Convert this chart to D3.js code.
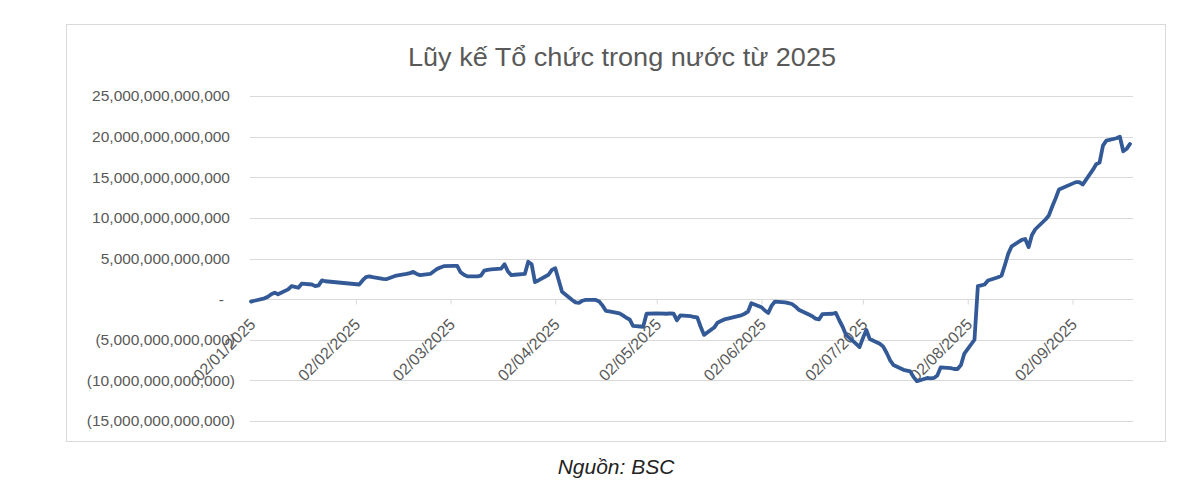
<!DOCTYPE html>
<html>
<head>
<meta charset="utf-8">
<script src="https://cdn.jsdelivr.net/npm/d3@7"></script>
<style>
  html, body { margin: 0; padding: 0; background: #ffffff; }
  svg { display: block; }
</style>
</head>
<body>
<svg id="chart" width="1200" height="488"></svg>
<script>
// ---- DATA (cumulative net, trillion VND) ----
const title = "Lũy kế Tổ chức trong nước từ 2025";
const source = "Nguồn: BSC";

const dates = [
  "2025-01-02","2025-01-03","2025-01-06","2025-01-07","2025-01-08","2025-01-09","2025-01-10","2025-01-13","2025-01-14","2025-01-15","2025-01-16","2025-01-17","2025-01-20","2025-01-21","2025-01-22","2025-01-23","2025-01-24",
  "2025-02-03","2025-02-04","2025-02-05","2025-02-06","2025-02-07","2025-02-10","2025-02-11","2025-02-12","2025-02-13","2025-02-14","2025-02-17","2025-02-18","2025-02-19","2025-02-20","2025-02-21","2025-02-24","2025-02-25","2025-02-26","2025-02-27","2025-02-28",
  "2025-03-03","2025-03-04","2025-03-05","2025-03-06","2025-03-07","2025-03-10","2025-03-11","2025-03-12","2025-03-13","2025-03-14","2025-03-17","2025-03-18","2025-03-19","2025-03-20","2025-03-21","2025-03-24","2025-03-25","2025-03-26","2025-03-27","2025-03-28","2025-03-31",
  "2025-04-01","2025-04-02","2025-04-03","2025-04-04","2025-04-07","2025-04-08","2025-04-09","2025-04-10","2025-04-11","2025-04-14","2025-04-15","2025-04-16","2025-04-17","2025-04-18","2025-04-21","2025-04-22","2025-04-23","2025-04-24","2025-04-25","2025-04-28","2025-04-29",
  "2025-05-02","2025-05-05","2025-05-06","2025-05-07","2025-05-08","2025-05-09","2025-05-12","2025-05-13","2025-05-14","2025-05-15","2025-05-16","2025-05-19","2025-05-20","2025-05-21","2025-05-22","2025-05-23","2025-05-26","2025-05-27","2025-05-28","2025-05-29","2025-05-30",
  "2025-06-02","2025-06-03","2025-06-04","2025-06-05","2025-06-06","2025-06-09","2025-06-10","2025-06-11","2025-06-12","2025-06-13","2025-06-16","2025-06-17","2025-06-18","2025-06-19","2025-06-20","2025-06-23","2025-06-24","2025-06-25","2025-06-26","2025-06-27","2025-06-30",
  "2025-07-01","2025-07-02","2025-07-03","2025-07-04","2025-07-07","2025-07-08","2025-07-09","2025-07-10","2025-07-11","2025-07-14","2025-07-15","2025-07-16","2025-07-17","2025-07-18","2025-07-21","2025-07-22","2025-07-23","2025-07-24","2025-07-25","2025-07-28","2025-07-29","2025-07-30","2025-07-31",
  "2025-08-01","2025-08-04","2025-08-05","2025-08-06","2025-08-07","2025-08-08","2025-08-11","2025-08-12","2025-08-13","2025-08-14","2025-08-15","2025-08-18","2025-08-19","2025-08-20","2025-08-21","2025-08-22","2025-08-25","2025-08-26","2025-08-27","2025-08-28","2025-08-29",
  "2025-09-03","2025-09-04","2025-09-05","2025-09-08","2025-09-09","2025-09-10","2025-09-11","2025-09-12","2025-09-15","2025-09-16","2025-09-17","2025-09-18","2025-09-19"
];

const values = [
  -0.3,-0.2,0.1,0.3,0.6,0.8,0.6,1.2,1.6,1.5,1.4,1.9,1.8,1.6,1.7,2.3,2.2,
  1.8,2.3,2.7,2.8,2.7,2.5,2.45,2.6,2.75,2.9,3.1,3.2,3.35,3.1,2.95,3.1,3.4,3.7,3.9,4.05,
  4.1,4.1,3.3,3.0,2.8,2.8,2.9,3.5,3.6,3.65,3.75,4.3,3.4,2.95,3.0,3.1,4.6,4.3,2.1,2.3,3.0,
  3.6,3.8,2.35,0.9,-0.1,-0.4,-0.45,-0.2,-0.1,-0.1,-0.3,-0.8,-1.45,-1.5,-1.75,-2.0,-2.3,-2.5,-3.3,-3.4,-1.8,
  -1.75,-1.8,-1.75,-1.8,-2.6,-2.0,-2.1,-2.2,-2.25,-3.4,-4.4,-3.5,-2.9,-2.7,-2.5,-2.4,-2.1,-2.0,-1.8,-1.55,-0.5,
  -1.0,-1.4,-1.7,-0.8,-0.3,-0.4,-0.5,-0.6,-0.9,-1.3,-1.9,-2.1,-2.4,-2.5,-1.85,-1.8,-1.7,-2.6,-3.4,-4.4,-5.5,
  -5.9,-4.8,-3.8,-4.9,-5.5,-5.85,-6.6,-7.5,-8.1,-8.7,-8.8,-8.9,-9.6,-10.1,-9.7,-9.75,-9.7,-9.4,-8.4,-8.5,-8.6,-8.6,-8.1,
  -6.7,-5.0,1.6,1.7,1.8,2.3,2.7,2.9,4.2,5.6,6.5,7.3,7.4,6.4,7.9,8.6,9.8,10.3,11.4,12.4,13.5,
  14.4,14.4,14.1,15.9,16.6,16.8,18.9,19.5,19.8,20.0,18.2,18.5,19.1
];

const yTicks = [-15, -10, -5, 0, 5, 10, 15, 20, 25];
const xTickDates = ["2025-01-02","2025-02-02","2025-03-02","2025-04-02","2025-05-02","2025-06-02","2025-07-02","2025-08-02","2025-09-02"];

// ---- DRAW ----
const parse = d3.timeParse("%Y-%m-%d");
const series = dates.map((d, i) => ({ date: parse(d), value: values[i] }));

const svg = d3.select("#chart");
const plotLeft = 250, plotRight = 1133;

// frame
svg.append("rect")
  .attr("x", 66.5).attr("y", 24.5)
  .attr("width", 1099).attr("height", 417)
  .attr("fill", "#ffffff").attr("stroke", "#d9d9d9").attr("stroke-width", 1);

const x = d3.scaleTime()
  .domain([parse("2025-01-02"), parse("2025-09-19")])
  .range([251, 1130]);

const y = d3.scaleLinear()
  .domain([-15, 25])
  .range([421, 96]);

// gridlines
svg.append("g")
  .selectAll("line")
  .data(yTicks)
  .join("line")
  .attr("x1", plotLeft).attr("x2", plotRight)
  .attr("y1", d => Math.round(y(d)) + 0.5)
  .attr("y2", d => Math.round(y(d)) + 0.5)
  .attr("stroke", "#d9d9d9").attr("stroke-width", 1);

// y labels (accounting style)
const fmt = d3.format(",.0f");
svg.append("g")
  .selectAll("text")
  .data(yTicks)
  .join("text")
  .attr("x", d => d < 0 ? 235 : (d === 0 ? 224 : 230))
  .attr("y", d => y(d))
  .attr("dy", "0.35em")
  .attr("text-anchor", "end")
  .attr("font-family", "Liberation Sans, Arial, sans-serif")
  .attr("font-size", 15.5)
  .attr("fill", "#595959")
  .text(d => d === 0 ? "-" : (d < 0 ? "(" + fmt(-d * 1e12) + ")" : fmt(d * 1e12)));

// x axis ticks on zero line
const xAxis = d3.axisBottom(x)
  .tickValues(xTickDates.map(parse))
  .tickSize(5)
  .tickFormat(d3.timeFormat("%d/%m/%Y"));

const gx = svg.append("g")
  .attr("transform", `translate(0,${Math.round(y(0)) + 0.5})`)
  .call(xAxis);
gx.select(".domain").attr("stroke", "#d9d9d9").attr("d", `M${plotLeft},0H${plotRight}`);
gx.selectAll(".tick line").attr("stroke", "#d9d9d9");
gx.selectAll(".tick text")
  .attr("font-family", "Liberation Sans, Arial, sans-serif")
  .attr("font-size", 16)
  .attr("fill", "#595959")
  .attr("text-anchor", "end")
  .attr("dy", null)
  .attr("y", 0)
  .attr("transform", "translate(5,26) rotate(-45)");

// line
const line = d3.line()
  .x(d => x(d.date))
  .y(d => y(d.value));

svg.append("path")
  .datum(series)
  .attr("fill", "none")
  .attr("stroke", "#335a96")
  .attr("stroke-width", 3.8)
  .attr("stroke-linejoin", "round")
  .attr("stroke-linecap", "round")
  .attr("d", line);

// title
svg.append("text")
  .attr("x", 622).attr("y", 66)
  .attr("text-anchor", "middle")
  .attr("font-family", "Liberation Sans Narrow, Liberation Sans, Arial, sans-serif")
  .attr("font-size", 25)
  .attr("fill", "#595959")
  .attr("textLength", 428)
  .attr("lengthAdjust", "spacingAndGlyphs")
  .text(title);

// source caption
svg.append("text")
  .attr("x", 616).attr("y", 474)
  .attr("text-anchor", "middle")
  .attr("font-family", "Liberation Sans, Arial, sans-serif")
  .attr("font-style", "italic")
  .attr("font-size", 21)
  .attr("fill", "#222222")
  .text(source);
</script>
</body>
</html>
